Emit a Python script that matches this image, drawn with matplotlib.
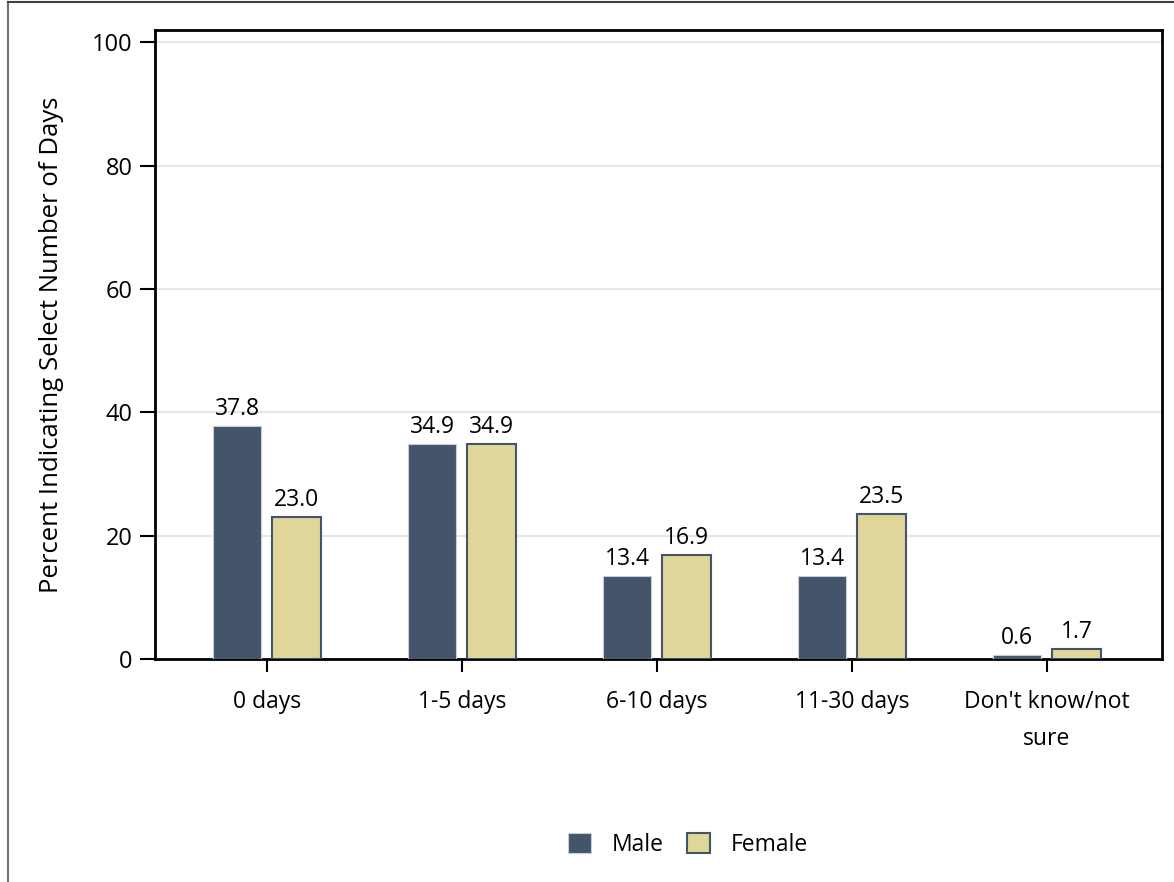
import matplotlib
matplotlib.use('Agg')
import matplotlib.pyplot as plt
from matplotlib.lines import Line2D
import numpy as np

# values
categories = ['0 days', '1-5 days', '6-10 days', '11-30 days', "Don't know/not\nsure"]
male = [37.8, 34.9, 13.4, 13.4, 0.6]
female = [23.0, 34.9, 16.9, 23.5, 1.7]
yticks = [0, 20, 40, 60, 80, 100]

male_color = '#44546a'
female_color = '#e0d699'

plt.rcParams['font.family'] = ['Open Sans', 'DejaVu Sans']

fig = plt.figure(figsize=(11.74, 8.82), dpi=100)
ax = fig.add_axes([155/1174, 1 - 659/882, (1162-155)/1174, (659-30)/882])

x = np.arange(len(categories))
w = 0.25
off = 0.153
ax.bar(x - off, male, w, color=male_color, edgecolor='#c8ccd4', linewidth=0.8, label='Male', zorder=3)
ax.bar(x + off, female, w, color=female_color, edgecolor=male_color, linewidth=1.5, label='Female', zorder=3)

for xi, v in zip(x, male):
    ax.text(xi - off, v + 0.8, f'{v:.1f}', ha='center', va='bottom', fontsize=16.5)
for xi, v in zip(x, female):
    ax.text(xi + off, v + 0.8, f'{v:.1f}', ha='center', va='bottom', fontsize=16.5)

ax.set_xlim(-0.574, 4.59)
ax.set_ylim(0, 102)
ax.set_yticks(yticks)
ax.set_xticks(x)
ax.set_xticklabels(categories, fontsize=16.5, linespacing=1.7)
ax.tick_params(axis='y', labelsize=17, length=11, width=1.5, direction='out', pad=5)
ax.tick_params(axis='x', length=9.5, width=1.5, direction='out', pad=13)
ax.grid(axis='y', color='#e6e6e6', linewidth=1.5, zorder=0)
for s in ax.spines.values():
    s.set_linewidth(2)
    s.set_color('black')

ax.set_ylabel('Percent Indicating Select Number of Days', fontsize=18.5, labelpad=20)

leg = fig.legend(loc='center', bbox_to_anchor=(688/1174, 1 - 845/882), ncol=2, frameon=False,
                 fontsize=16.5, handlelength=1.0, handleheight=1.0, handletextpad=0.9,
                 columnspacing=1.0)

# outer frame of the original picture
fig.add_artist(Line2D([8/1174, 8/1174], [0, 1 - 2/882], color='#707070', linewidth=1.5))
fig.add_artist(Line2D([8/1174, 1], [1 - 2/882, 1 - 2/882], color='#404040', linewidth=1.5))

fig.savefig('out.png', dpi=100)
